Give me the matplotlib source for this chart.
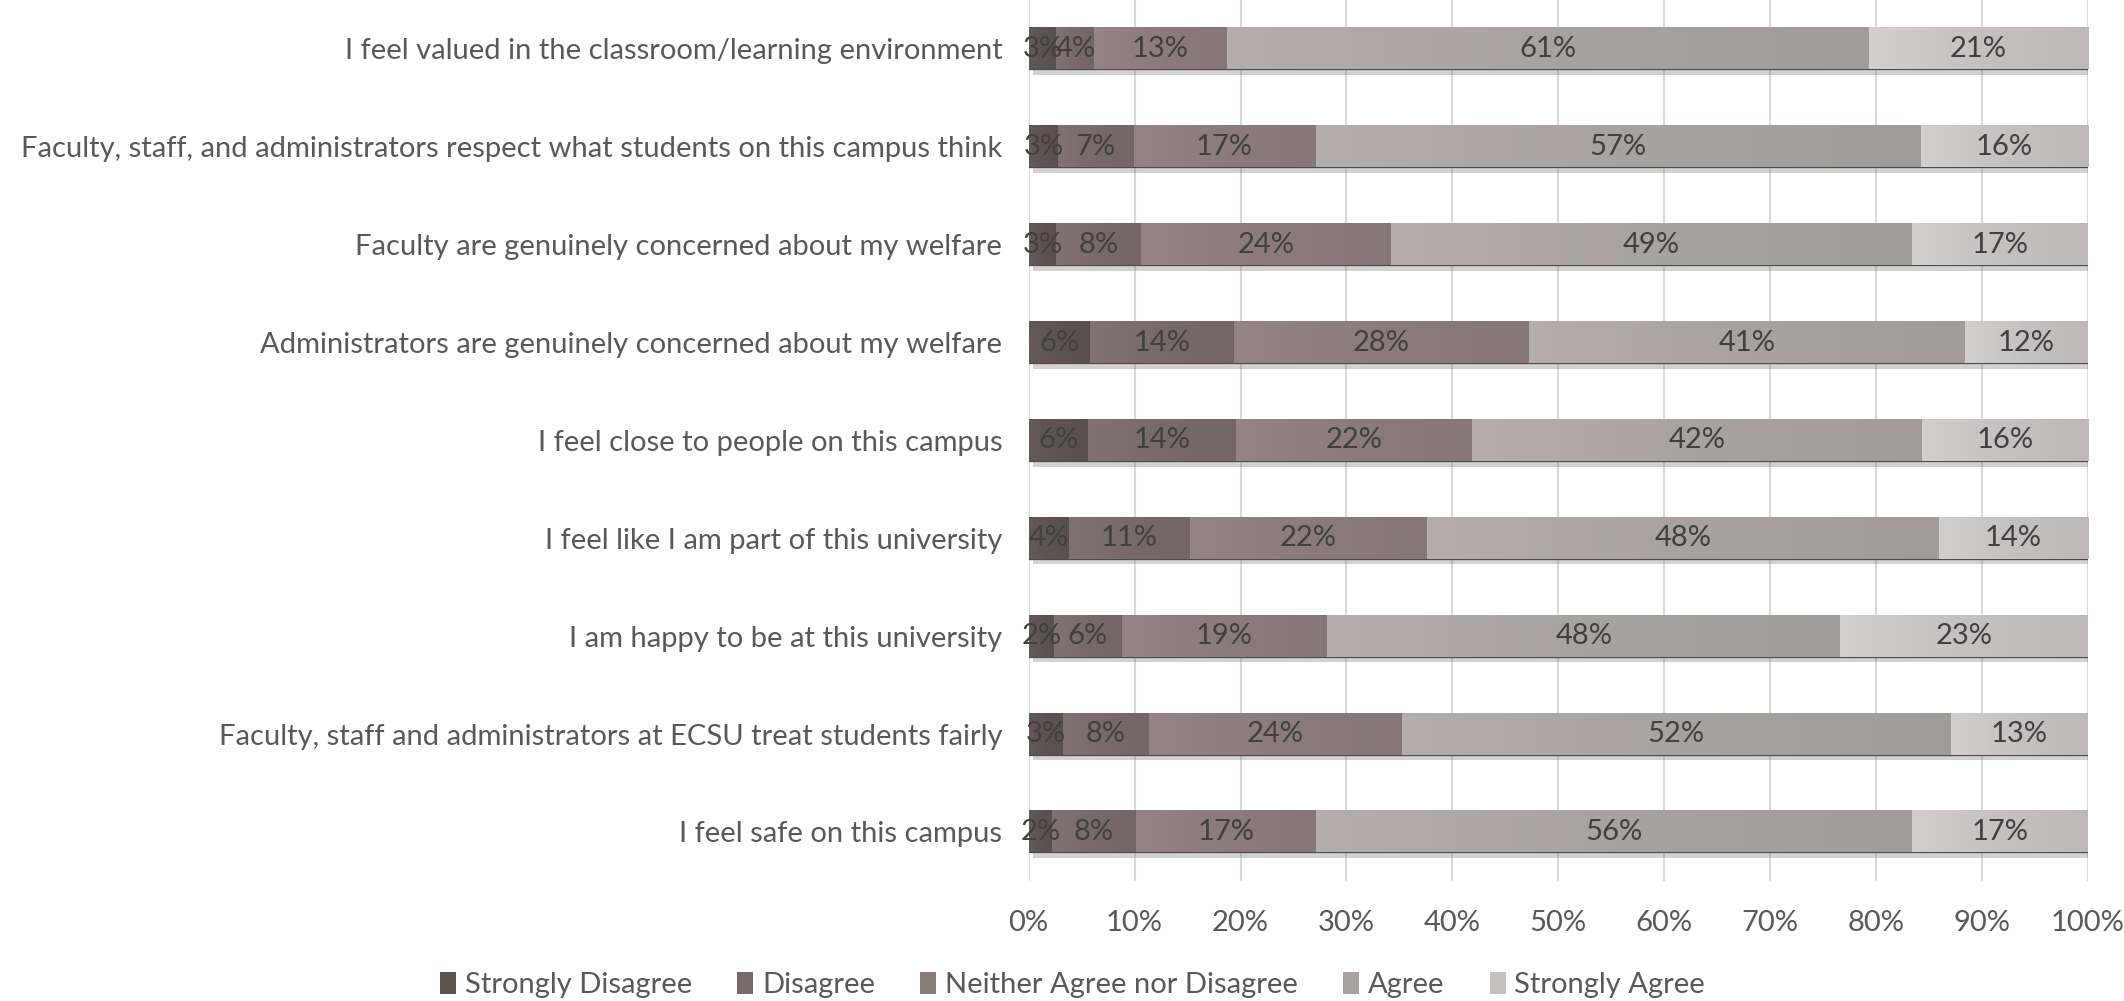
import matplotlib.pyplot as plt
import matplotlib.patheffects as pe
import numpy as np
from matplotlib.colors import LinearSegmentedColormap, to_rgb
from matplotlib.patches import Patch

plt.rcParams['font.family'] = ['Lato', 'DejaVu Sans']

# Survey statements, top to bottom
statements = [
    'I feel valued in the classroom/learning environment',
    'Faculty, staff, and administrators respect what students on this campus think',
    'Faculty are genuinely concerned about my welfare',
    'Administrators are genuinely concerned about my welfare',
    'I feel close to people on this campus',
    'I feel like I am part of this university',
    'I am happy to be at this university',
    'Faculty, staff and administrators at ECSU treat students fairly',
    'I feel safe on this campus',
]
responses = ['Strongly Disagree', 'Disagree', 'Neither Agree nor Disagree',
             'Agree', 'Strongly Agree']

# Percent of respondents per statement
strongly_disagree = [2.6, 2.8, 2.6, 5.8, 5.6, 3.8, 2.4, 3.2, 2.2]
disagree = [3.6, 7.1, 8.0, 13.6, 14.0, 11.4, 6.4, 8.2, 7.9]
neither = [12.5, 17.2, 23.6, 27.8, 22.3, 22.4, 19.4, 23.8, 17.0]
agree = [60.6, 57.1, 49.2, 41.2, 42.4, 48.3, 48.4, 51.9, 56.3]
strongly_agree = [20.7, 15.8, 16.6, 11.6, 15.7, 14.1, 23.4, 12.9, 16.6]

colors = ['#5e5253', '#786a6b', '#8b7b7c', '#aaa1a1', '#c6c0c0']
fs = 21

fig = plt.figure(figsize=(21.24, 10.01), dpi=100)
ax = fig.add_axes([0.4843, 0.12, 0.4987, 0.88])

data = np.array([strongly_disagree, disagree, neither, agree, strongly_agree])
y = np.arange(len(statements))[::-1]
bar_h = 0.42
left = np.zeros(len(statements))

shadow = [pe.SimplePatchShadow(offset=(3, -4), shadow_rgbFace='#6b6b6b', alpha=0.3),
          pe.Normal()]

for vals, color, name in zip(data, colors, responses):
    bars = ax.barh(y, vals, left=left, height=bar_h, color=color,
                   edgecolor='#4f4a4a', linewidth=0.9, zorder=3)
    base = np.array(to_rgb(color))
    cmap = LinearSegmentedColormap.from_list(
        name, [np.clip(base * 1.07, 0, 1), base, base * 0.96])
    grad = np.linspace(0, 1, 64).reshape(1, -1)
    for b, v, l in zip(bars, vals, left):
        b.set_path_effects(shadow)
        ax.imshow(grad, cmap=cmap, extent=[l, l + v, b.get_y(), b.get_y() + bar_h],
                  aspect='auto', zorder=3.5, interpolation='bicubic')
        ax.text(l + v / 2, b.get_y() + bar_h / 2, f'{int(v + 0.5)}%',
                ha='center', va='center', fontsize=fs, color='#404040', zorder=5)
    left += vals

ax.set_xlim(0, 100)
ax.set_ylim(-0.5, len(statements) - 0.5)
ax.set_xticks(np.arange(0, 101, 10))
ax.set_xticklabels([f'{t}%' for t in range(0, 101, 10)])
ax.set_yticks(y)
ax.set_yticklabels(statements)
ax.tick_params(axis='both', length=0, labelsize=fs, labelcolor='#595959')
ax.tick_params(axis='y', pad=19)
ax.tick_params(axis='x', pad=21)
ax.grid(axis='x', color='#d9d9d9', linewidth=1.5, zorder=0)
for s in ax.spines.values():
    s.set_visible(False)

handles = [Patch(facecolor=c, edgecolor='none') for c in colors]
fig.legend(handles, responses, loc='center', bbox_to_anchor=(0.505, 0.016), ncol=5,
           frameon=False, fontsize=fs, handlelength=0.55, handleheight=0.8,
           handletextpad=0.3, columnspacing=1.55, labelcolor='#595959')

fig.savefig('out.png', dpi=100)
